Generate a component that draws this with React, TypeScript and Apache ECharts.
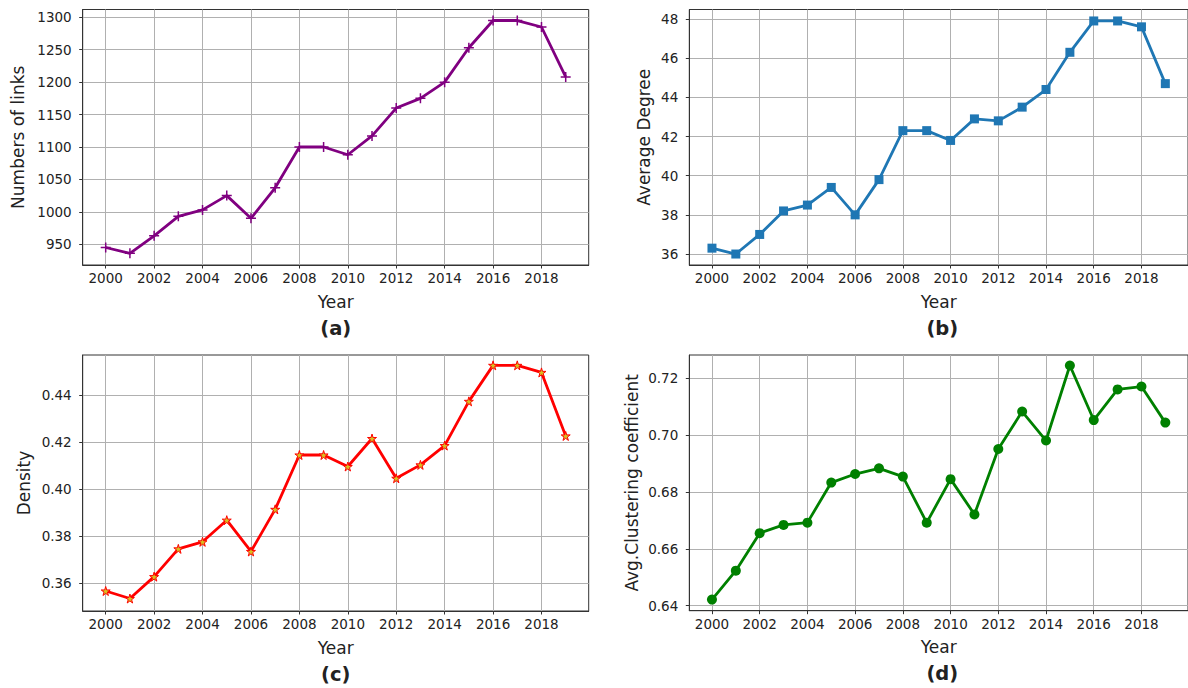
import React, { useEffect, useRef } from "react";
import * as echarts from "echarts";

const years = [2000, 2001, 2002, 2003, 2004, 2005, 2006, 2007, 2008, 2009, 2010, 2011, 2012, 2013, 2014, 2015, 2016, 2017, 2018, 2019];
const links = [945, 936, 963, 993, 1003, 1025, 990, 1037, 1100, 1100, 1088, 1117, 1160, 1175, 1200, 1253, 1295, 1295, 1285, 1208];
const avgDegree = [36.3, 36.0, 37.0, 38.2, 38.5, 39.4, 38.0, 39.8, 42.3, 42.3, 41.8, 42.9, 42.8, 43.5, 44.4, 46.3, 47.9, 47.9, 47.6, 44.7];
const density = [0.3567, 0.3535, 0.3628, 0.3746, 0.3776, 0.3868, 0.3735, 0.3914, 0.4145, 0.4145, 0.4096, 0.4215, 0.4046, 0.4103, 0.4185, 0.4373, 0.4526, 0.4526, 0.4496, 0.4226];
const clustering = [0.6421, 0.6523, 0.6655, 0.6684, 0.6692, 0.6833, 0.6863, 0.6883, 0.6854, 0.6692, 0.6845, 0.6721, 0.6951, 0.7083, 0.6981, 0.7245, 0.7053, 0.7161, 0.7171, 0.7044];

const yearTicks = [2000, 2002, 2004, 2006, 2008, 2010, 2012, 2014, 2016, 2018];
const linksTicks = [950, 1000, 1050, 1100, 1150, 1200, 1250, 1300];
const degreeTicks = [36, 38, 40, 42, 44, 46, 48];
const densityTicks = [0.36, 0.38, 0.40, 0.42, 0.44];
const clusteringTicks = [0.64, 0.66, 0.68, 0.70, 0.72];

const FONT = "DejaVu Sans";
const TXT = "#222";

const PLUS = "path://M0,50 L100,50 M50,0 L50,100";
const STAR = "path://M50,0 L61,35 L98,35 L68,57 L79,91 L50,70 L21,91 L32,57 L2,35 L39,35 Z";

type Panel = {
  left: number; top: number; width: number; height: number;
  yMin: number; yMax: number; yTicks: number[]; decimals: number;
  name: string; nameGap: number; values: number[]; color: string;
  symbol: string; symbolSize: number; fill: string; border: number;
  label: string;
};

const panels: Panel[] = [
  { left: 82.7, top: 9.5, width: 506, height: 255.5, yMin: 918, yMax: 1312, yTicks: linksTicks, decimals: 0,
    name: "Numbers of links", nameGap: 56, values: links, color: "#800080", symbol: PLUS, symbolSize: 10,
    fill: "#800080", border: 1.5, label: "(a)" },
  { left: 689.3, top: 9.5, width: 506, height: 255.5, yMin: 35.44, yMax: 48.485, yTicks: degreeTicks, decimals: 0,
    name: "Average Degree", nameGap: 37, values: avgDegree, color: "#1f77b4", symbol: "rect", symbolSize: 9,
    fill: "#1f77b4", border: 0, label: "(b)" },
  { left: 82.7, top: 355, width: 506, height: 256, yMin: 0.3482, yMax: 0.457, yTicks: densityTicks, decimals: 2,
    name: "Density", nameGap: 50, values: density, color: "#ff0000", symbol: STAR, symbolSize: 9,
    fill: "#d8c020", border: 1, label: "(c)" },
  { left: 689.3, top: 355, width: 506, height: 255.7, yMin: 0.6382, yMax: 0.7282, yTicks: clusteringTicks, decimals: 2,
    name: "Avg.Clustering coefficient", nameGap: 49, values: clustering, color: "#008000", symbol: "circle", symbolSize: 10,
    fill: "#008000", border: 0, label: "(d)" },
];

export default function App() {
  const ref = useRef<HTMLDivElement>(null);
  useEffect(() => {
    if (!ref.current) return;
    const chart = echarts.init(ref.current, null, { renderer: "svg" });
    const grid = panels.map((p) => ({
      left: p.left, top: p.top, width: p.width, height: p.height,
      show: true, borderColor: "#333", borderWidth: 1, backgroundColor: "transparent",
      containLabel: false,
    }));
    const xAxis = panels.map((p, i) => ({
      type: "value", gridIndex: i, min: 1999.05, max: 2019.95,
      name: "Year", nameLocation: "middle", nameGap: 28,
      nameTextStyle: { fontFamily: FONT, fontSize: 17, color: TXT },
      axisLine: { show: true, onZero: false, lineStyle: { color: "#333", width: 1 } },
      axisTick: { show: true, length: 3.5, customValues: yearTicks, lineStyle: { color: "#333" } },
      axisLabel: { show: true, customValues: yearTicks, margin: 6, fontFamily: FONT, fontSize: 13.5, color: TXT,
        formatter: (v: number) => String(Math.round(v)) },
      splitLine: { show: true, lineStyle: { color: "#b0b0b0", width: 1 } },
    }));
    const yAxis = panels.map((p, i) => ({
      type: "value", gridIndex: i, min: p.yMin, max: p.yMax,
      name: p.name, nameLocation: "middle", nameGap: p.nameGap,
      nameTextStyle: { fontFamily: FONT, fontSize: 17, color: TXT },
      axisLine: { show: true, lineStyle: { color: "#333", width: 1 } },
      axisTick: { show: true, length: 3.5, customValues: p.yTicks, lineStyle: { color: "#333" } },
      axisLabel: { show: true, customValues: p.yTicks, margin: 11, fontFamily: FONT, fontSize: 13.5, color: TXT,
        formatter: (v: number) => v.toFixed(p.decimals) },
      splitLine: { show: true, lineStyle: { color: "#b0b0b0", width: 1 } },
    }));
    const series = panels.map((p, i) => ({
      type: "line", xAxisIndex: i, yAxisIndex: i,
      data: years.map((y, k) => [y, p.values[k]]),
      symbol: p.symbol, symbolSize: p.symbolSize, showSymbol: true,
      lineStyle: { color: p.color, width: 2.8 },
      itemStyle: { color: p.fill, borderColor: p.color, borderWidth: p.border, opacity: 1 },
      emphasis: { disabled: true },
      clip: true,
      z: 3,
    }));
    const graphic = panels.map((p) => ({
      type: "text",
      x: p.left + 253,
      y: p.top + p.height + 63,
      style: { text: p.label, fontFamily: FONT, fontSize: 19.5, fontWeight: "bold", fill: TXT,
        textAlign: "center", textVerticalAlign: "middle" },
    }));
    chart.setOption({
      animation: false,
      backgroundColor: "#ffffff",
      grid, xAxis, yAxis, series, graphic,
    } as any);
    return () => chart.dispose();
  }, []);
  return (
    <div
      ref={ref}
      style={{ position: "absolute", left: 0, top: 0, width: 1188, height: 688, background: "#fff" }}
    />
  );
}
